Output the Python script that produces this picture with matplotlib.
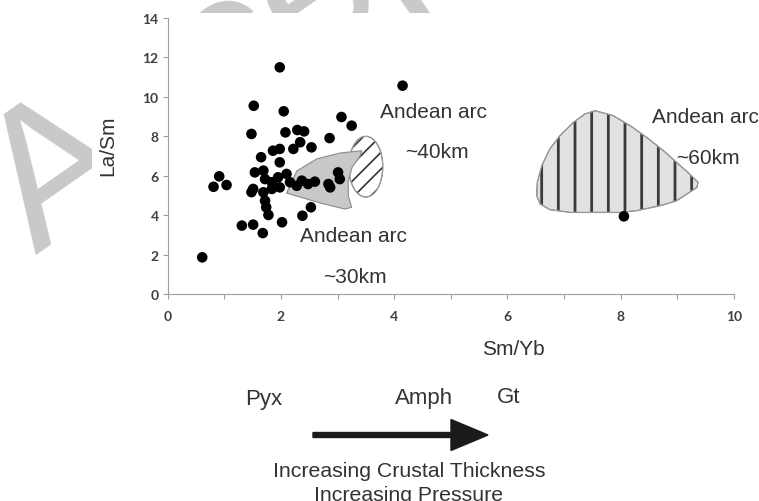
import numpy as np
import matplotlib
matplotlib.use('Agg')
import matplotlib.pyplot as plt
from matplotlib.patches import Polygon, Ellipse, Rectangle, FancyArrow

# samples: Sm/Yb vs La/Sm
sm_yb = [0.61, 0.81, 0.91, 1.04, 1.31, 1.51, 1.68, 1.52, 1.48, 1.98, 2.05, 2.08, 2.29,
         2.41, 2.34, 2.22, 2.54, 2.86, 3.07, 3.25, 1.86, 1.98, 1.65, 1.98, 1.54, 1.69,
         1.72, 1.51, 1.48, 1.84, 1.95, 2.10, 2.16, 1.98, 1.84, 1.69, 2.37, 2.48, 2.60,
         2.84, 2.87, 3.01, 3.04, 2.28, 1.72, 1.74, 1.78, 2.02, 2.38, 2.53, 4.15, 8.06]
la_sm = [1.86, 5.44, 5.97, 5.53, 3.47, 3.52, 3.09, 9.55, 8.12, 11.50, 9.27, 8.20, 8.32,
         8.25, 7.70, 7.36, 7.44, 7.91, 8.98, 8.54, 7.27, 7.36, 6.94, 6.68, 6.17, 6.26,
         5.83, 5.33, 5.17, 5.67, 5.92, 6.09, 5.67, 5.41, 5.33, 5.16, 5.75, 5.58, 5.70,
         5.58, 5.41, 6.17, 5.83, 5.49, 4.73, 4.40, 4.01, 3.64, 3.97, 4.40, 10.57, 3.94]

# Andean arc fields
arc30_x = [2.10, 2.28, 2.63, 3.04, 3.43, 3.40, 3.26, 3.19, 3.19, 3.25, 3.13, 2.69, 2.34]
arc30_y = [5.12, 6.24, 6.85, 7.15, 7.27, 7.00, 6.44, 5.73, 4.99, 4.40, 4.31, 4.62, 4.92]
arc40_center = (3.50, 6.46)
arc40_size = (0.60, 3.08)
arc60_x = [7.55, 7.87, 8.17, 8.46, 8.76, 8.99, 9.22, 9.37, 9.35, 9.22, 8.99, 8.70, 8.29,
           7.99, 7.11, 6.75, 6.58, 6.52, 6.53, 6.61, 6.75, 6.93, 7.17, 7.37]
arc60_y = [9.30, 9.05, 8.54, 7.95, 7.27, 6.68, 6.09, 5.67, 5.41, 5.16, 4.73, 4.48, 4.23,
           4.14, 4.14, 4.28, 4.57, 4.99, 5.67, 6.51, 7.36, 8.03, 8.71, 9.13]

x_ticks = list(range(0, 11))
x_labels = [str(v) if v % 2 == 0 else '' for v in x_ticks]
y_ticks = list(range(0, 15, 2))

W, H = 759, 502
fig = plt.figure(figsize=(W / 100, H / 100), dpi=100)
fig.patch.set_facecolor('white')

# background layer in pixel coords (watermark, arrow, captions)
ov = fig.add_axes([0, 0, 1, 1], zorder=-1)
ov.set_xlim(0, W)
ov.set_ylim(H, 0)
ov.axis('off')
ov.text(36, 255, 'Accepted Manuscript', rotation=35, rotation_mode='anchor',
        ha='left', va='baseline', fontsize=140, color='#c9c9c9',
        family='Liberation Sans', zorder=0)
ov.add_patch(Rectangle((92, 14), W - 92, H - 14, facecolor='white', edgecolor='none', zorder=1))

txt = '#333333'
ov.text(481.7, 355.5, 'Sm/Yb', fontsize=15, color=txt, family='Liberation Sans',
        ha='left', va='baseline', zorder=2)
ov.text(108, 115, 'La/Sm', fontsize=15, color=txt, family='Liberation Sans',
        rotation=90, ha='right', va='center', rotation_mode='anchor', zorder=2)
for label, xp, yb in [('Pyx', 245, 405), ('Amph', 395, 404.3), ('Gt', 497, 403)]:
    ov.text(xp, yb, label, fontsize=16, color=txt, family='Liberation Sans',
            ha='left', va='baseline', zorder=2)
ov.add_patch(FancyArrow(313, 436, 175, 0, width=5, head_width=31, head_length=37,
                        length_includes_head=True, color='#1a1a1a', zorder=2))
ov.text(409, 476.7, 'Increasing Crustal Thickness', fontsize=15.3, color=txt,
        family='Liberation Sans', ha='center', va='baseline', zorder=2)
ov.text(409, 501, 'Increasing Pressure', fontsize=15.3, color=txt,
        family='Liberation Sans', ha='center', va='baseline', zorder=2)

# main chart
ax = fig.add_axes([167.7 / W, 1 - 295 / H, 566 / W, (295 - 19.06) / H])
ax.set_xlim(0, 10)
ax.set_ylim(0, 14)
for s in ['top', 'right']:
    ax.spines[s].set_visible(False)
for s in ['left', 'bottom']:
    ax.spines[s].set_color('#a0a0a0')
    ax.spines[s].set_linewidth(0.8)
ax.set_xticks(x_ticks)
ax.set_xticklabels(x_labels)
ax.set_yticks(y_ticks)
ax.tick_params(axis='both', colors='#a0a0a0', length=3.5, width=0.8,
               labelcolor='#404040', labelsize=10)
ax.tick_params(axis='x', pad=8)
ax.tick_params(axis='y', pad=3)
for lab in ax.get_xticklabels() + ax.get_yticklabels():
    lab.set_family('Lato')
    lab.set_fontweight('bold')

# 40 km field: white with diagonal hatch
with plt.rc_context({'hatch.linewidth': 1.2}):
    e_fill = Ellipse(arc40_center, *arc40_size, facecolor='white', edgecolor='#333333',
                     hatch='//', linewidth=0.5, zorder=1)
    ax.add_patch(e_fill)
ax.add_patch(Ellipse(arc40_center, *arc40_size, fill=False, edgecolor='#9a9a9a',
                     linewidth=1.0, zorder=1.1))

# 30 km field: grey
ax.add_patch(Polygon(np.column_stack([arc30_x, arc30_y]), closed=True, facecolor='#c8c8c8',
                     edgecolor='#8a8a8a', linewidth=0.8, zorder=2))

# 60 km field: grey with vertical hatch
with plt.rc_context({'hatch.linewidth': 2.0}):
    p_fill = Polygon(np.column_stack([arc60_x, arc60_y]), closed=True, facecolor='#e2e2e2',
                     edgecolor='#3a3a3a', hatch='|', linewidth=0.5, zorder=1)
    ax.add_patch(p_fill)
ax.add_patch(Polygon(np.column_stack([arc60_x, arc60_y]), closed=True, fill=False,
                     edgecolor='#999999', linewidth=1.0, zorder=1.1))

ax.scatter(sm_yb, la_sm, s=58, color='black', edgecolors='none', zorder=3)

for label, xt, yt in [('Andean arc', 3.75, 8.96), ('~40km', 4.20, 6.94),
                      ('Andean arc', 2.34, 2.70), ('~30km', 2.75, 0.62),
                      ('Andean arc', 8.55, 8.71), ('~60km', 8.99, 6.65)]:
    ax.text(xt, yt, label, fontsize=15, color=txt, family='Liberation Sans',
            ha='left', va='baseline', zorder=4)

fig.savefig('out.png', dpi=100, facecolor='white')
